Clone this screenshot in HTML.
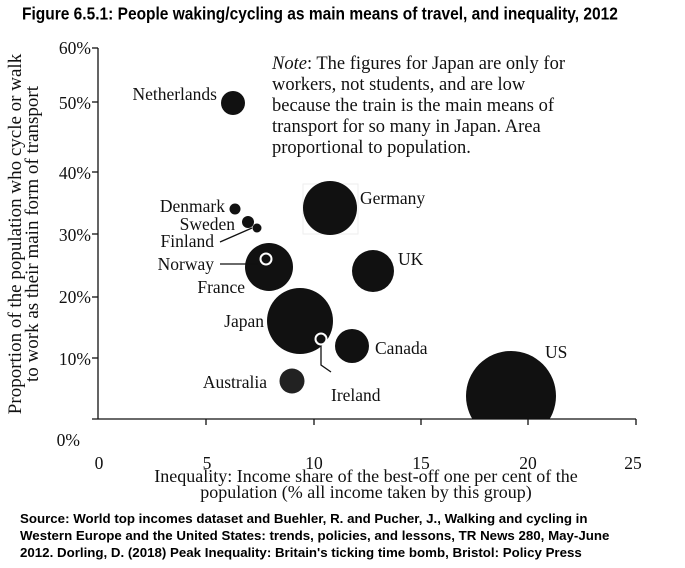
<!DOCTYPE html>
<html><head><style>
body{margin:0;width:685px;height:568px;background:#fff;overflow:hidden;position:relative}
.t{position:absolute;font-family:"Liberation Sans",sans-serif;font-weight:bold;}
svg{position:absolute;left:0;top:0}
</style></head><body>
<div class="t" style="left:22px;top:5px;font-size:15.5px;transform:scaleY(1.12);transform-origin:0 0;">Figure 6.5.1: People waking/cycling as main means of travel, and inequality, 2012</div>
<svg width="685" height="568" font-family="Liberation Serif, serif" font-size="17.5">
<defs><clipPath id="c"><rect x="98" y="40" width="560" height="379"/></clipPath></defs>
<rect x="303" y="184" width="55" height="50" fill="none" stroke="#eee"/>
<g fill="#111" clip-path="url(#c)">
<circle cx="233" cy="103" r="12"/>
<circle cx="235" cy="209" r="5.5"/>
<circle cx="248" cy="222" r="6"/>
<circle cx="257" cy="228" r="4.5"/>
<circle cx="269" cy="267" r="24"/>
<circle cx="300" cy="321" r="33"/>
<circle cx="292" cy="381" r="12.5" fill="#222"/>
<circle cx="330" cy="208" r="27"/>
<circle cx="352" cy="346" r="17"/>
<circle cx="373" cy="271" r="21"/>
<circle cx="511" cy="396" r="45"/>
</g>
<circle cx="266" cy="259" r="5.5" fill="#111" stroke="#fff" stroke-width="2"/>
<circle cx="321" cy="339" r="5.5" fill="#111" stroke="#fff" stroke-width="2"/>
<g stroke="#111" stroke-width="1.3" fill="none">
<line x1="98" y1="48" x2="98" y2="419"/>
<line x1="92" y1="419" x2="636" y2="419"/>
<line x1="92" y1="48" x2="98" y2="48"/><line x1="92" y1="102" x2="98" y2="102"/>
<line x1="92" y1="172" x2="98" y2="172"/><line x1="92" y1="234" x2="98" y2="234"/>
<line x1="92" y1="297" x2="98" y2="297"/><line x1="92" y1="358" x2="98" y2="358"/>
<line x1="206" y1="419" x2="206" y2="425"/><line x1="314" y1="419" x2="314" y2="425"/>
<line x1="421" y1="419" x2="421" y2="425"/><line x1="528" y1="419" x2="528" y2="425"/>
<line x1="636" y1="419" x2="636" y2="425"/>
<polyline points="220,242 252,228"/>
<line x1="220" y1="264" x2="258" y2="264"/>
<polyline points="321,346 321,365 331,372"/>
</g>
<g fill="#111" text-anchor="end">
<text x="91" y="54">60%</text><text x="91" y="109">50%</text><text x="91" y="179">40%</text>
<text x="91" y="241">30%</text><text x="91" y="303">20%</text><text x="91" y="365">10%</text>
<text x="80" y="446">0%</text>
<text x="217" y="100">Netherlands</text><text x="225" y="212">Denmark</text>
<text x="235" y="230">Sweden</text><text x="214" y="247">Finland</text>
<text x="214" y="270">Norway</text><text x="245" y="293">France</text>
<text x="264" y="327">Japan</text><text x="267" y="388">Australia</text>
</g>
<g fill="#111">
<text x="360" y="204">Germany</text><text x="398" y="265">UK</text>
<text x="375" y="354">Canada</text><text x="545" y="358">US</text>
<text x="331" y="401">Ireland</text>
</g>
<g fill="#111" text-anchor="middle">
<text x="99" y="469">0</text><text x="207" y="469">5</text><text x="314" y="469">10</text>
<text x="421" y="469">15</text><text x="528" y="469">20</text><text x="633" y="469">25</text>
<text x="366" y="482" font-size="18">Inequality: Income share of the best-off one per cent of the</text>
<text x="366" y="498" font-size="18">population (% all income taken by this group)</text>
</g>
<g transform="translate(21,234) rotate(-90)" text-anchor="middle" fill="#111" font-size="19">
<text x="0" y="0">Proportion of the population who cycle or walk</text>
<text x="0" y="17">to work as their main form of transport</text>
</g>
<g fill="#111" font-size="18.5">
<text x="272" y="69"><tspan font-style="italic">Note</tspan>: The figures for Japan are only for</text>
<text x="272" y="90">workers, not students, and are low</text>
<text x="272" y="111">because the train is the main means of</text>
<text x="272" y="132">transport for so many in Japan. Area</text>
<text x="272" y="153">proportional to population.</text>
</g>
</svg>
<div class="t" style="left:20px;top:510px;font-size:13.3px;line-height:17px;">Source: World top incomes dataset and Buehler, R. and Pucher, J., Walking and cycling in<br>Western Europe and the United States: trends, policies, and lessons, TR News 280, May-June<br>2012. Dorling, D. (2018) Peak Inequality: Britain's ticking time bomb, Bristol: Policy Press</div>
</body></html>
